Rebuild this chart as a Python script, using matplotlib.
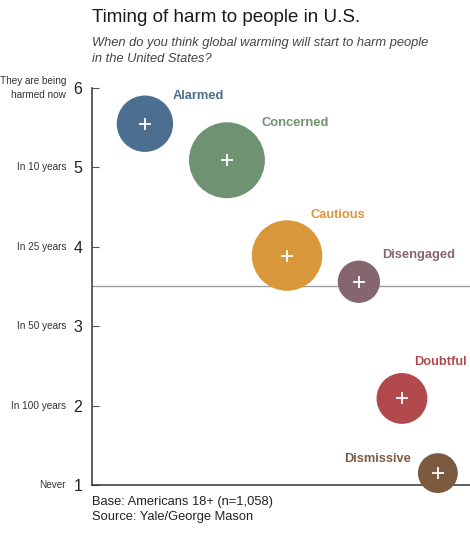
import matplotlib
matplotlib.use("Agg")
import matplotlib.pyplot as plt
import matplotlib.transforms as mtransforms


# ==========================================================
#                        DONNEES
# ==========================================================
segments = ["Alarmed", "Concerned", "Cautious", "Disengaged", "Doubtful", "Dismissive"]
seg_x = [14.0, 35.7, 51.6, 70.6, 82.0, 91.5]          # position horizontale (sans unite)
seg_y = [5.55, 5.09, 3.89, 3.56, 2.09, 1.15]          # reponse moyenne
seg_share = [16, 29, 25, 9, 13, 8]                     # part de la population (%)
seg_colors = ["#4c6f8f", "#6f9273", "#d9973b", "#85666f", "#b24a4d", "#7c5a3f"]

tick_values = [1, 2, 3, 4, 5, 6]
tick_names = ["Never", "In 100 years", "In 50 years", "In 25 years",
              "In 10 years", "They are being\nharmed now"]
midpoint = 3.5

title = "Timing of harm to people in U.S."
subtitle = "When do you think global warming will start to harm people\nin the United States?"
footer = "Base: Americans 18+ (n=1,058)\nSource: Yale/George Mason"

# decalage des etiquettes (points) par rapport au centre du cercle
label_offsets = [(20, 20), (25, 27), (17, 29), (17, 19), (9, 26), (-19, 10)]
label_ha = ["left", "left", "left", "left", "left", "right"]

plt.rcParams["font.family"] = ["Liberation Sans", "DejaVu Sans"]

# ==========================================================
#                        FIGURE
# ==========================================================
fig = plt.figure(figsize=(4.7, 5.36), dpi=100)
ax = fig.add_axes([92 / 470, 51 / 536, 378 / 470, 397 / 536])

size_scale = 103.0
ax.scatter(seg_x, seg_y, s=[v * size_scale for v in seg_share],
           c=seg_colors, edgecolors="none", clip_on=False, zorder=3)
ax.scatter(seg_x, seg_y, marker="+", s=70, c="white", linewidths=1.3,
           clip_on=False, zorder=4)

for i, name in enumerate(segments):
    ax.annotate(name, (seg_x[i], seg_y[i]), xytext=label_offsets[i],
                textcoords="offset points", ha=label_ha[i], va="center",
                fontsize=9.3, fontweight="bold", color=seg_colors[i],
                annotation_clip=False, zorder=5)

ax.axhline(midpoint, color="#a0a0a0", linewidth=1.0, zorder=1)

ax.set_xlim(0, 100)
ax.set_ylim(1, 6)

for side in ["top", "right"]:
    ax.spines[side].set_visible(False)
ax.spines["left"].set_color("#333333")
ax.spines["bottom"].set_color("#333333")
ax.spines["left"].set_linewidth(1.1)
ax.spines["bottom"].set_linewidth(1.1)

ax.set_xticks([])
ax.set_yticks(tick_values)
ax.set_yticklabels([str(v) for v in tick_values], fontsize=11.5, color="#222222")
ax.tick_params(axis="y", direction="in", length=5, width=0.8,
               color="#555555", pad=7)

# noms des categories a gauche des chiffres (police etroite absente -> plus petit)
trans = mtransforms.blended_transform_factory(ax.transAxes, ax.transData)
for v, name in zip(tick_values, tick_names):
    ax.text(-26 / 378, v, name, transform=trans, ha="right", va="center",
            fontsize=7.2, color="#333333", linespacing=1.5)

# ==========================================================
#                     TITRES / SOURCE
# ==========================================================
fig.text(92 / 470, 1 - 22 / 536, title, fontsize=13.5, color="#1a1a1a",
         ha="left", va="baseline")
fig.text(92 / 470, 1 - 37 / 536, subtitle, fontsize=9.25, color="#444444",
         style="italic", ha="left", va="top", linespacing=1.4)
fig.text(92 / 470, 1 - 496 / 536, footer, fontsize=9.3, color="#222222",
         ha="left", va="top", linespacing=1.3)

fig.savefig("out.png", dpi=100)
